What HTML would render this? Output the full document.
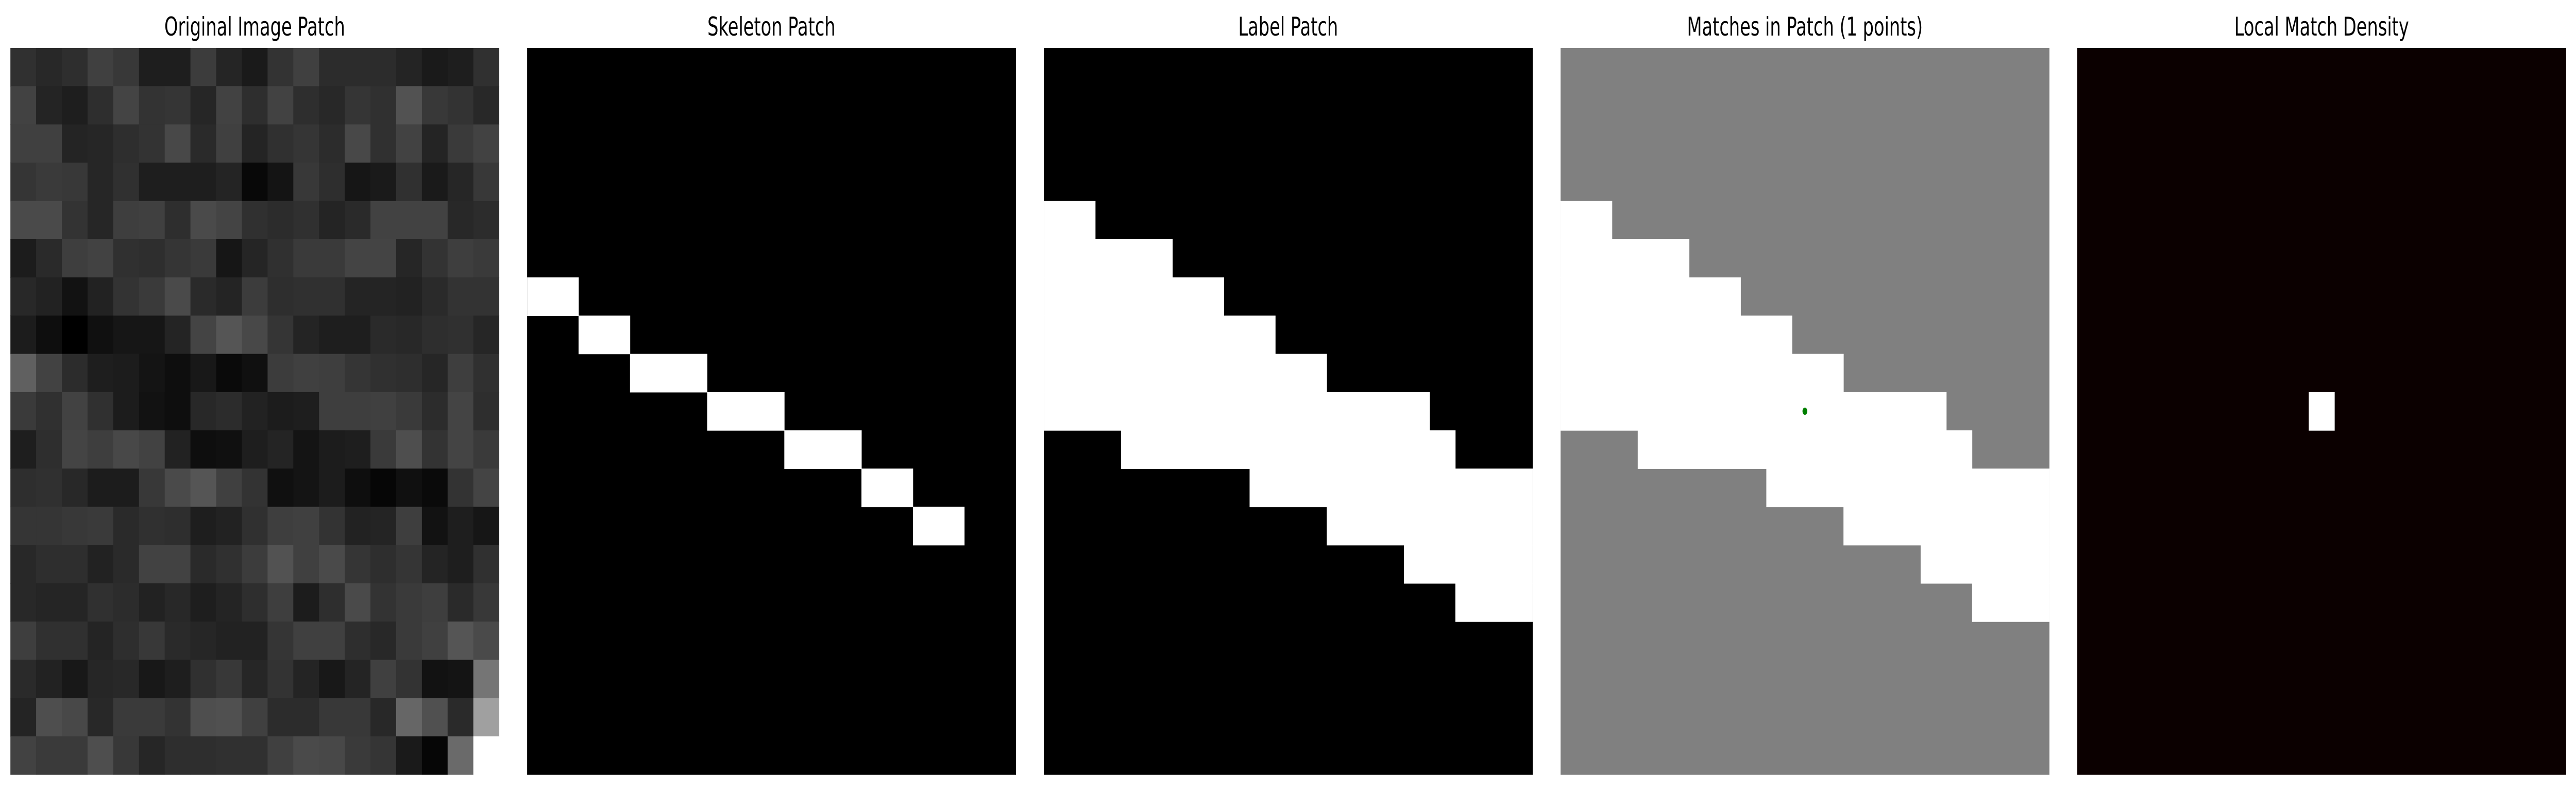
<!DOCTYPE html>
<html><head><meta charset="utf-8"><style>
html,body{margin:0;padding:0;background:#fff;width:100%;height:100%;overflow:hidden;}
svg{display:block;position:absolute;left:0;top:0;width:100vw;height:100vh;}
text{font-family:"DejaVu Sans","Liberation Sans",sans-serif;font-size:50px;fill:#000;}
</style></head><body>
<svg id="fig" viewBox="0 0 7433 1533" preserveAspectRatio="none" xmlns="http://www.w3.org/2000/svg">
<rect width="7433" height="1533" fill="#fff"/>
</svg>
<script>
const panelTitles = ["Original Image Patch","Skeleton Patch","Label Patch","Matches in Patch (1 points)","Local Match Density"];
const grayRows = [
"30,28,2e,40,38,1e,1e,3c,25,1a,33,40,2c,2c,2c,24,1a,1e,30",
"42,24,1e,2e,44,33,35,26,42,2e,42,2e,28,35,30,52,38,33,28",
"40,40,24,26,2e,33,48,2a,40,24,30,35,2c,48,30,42,24,3a,42",
"35,3a,38,26,30,1e,1e,1e,24,08,14,38,2e,16,1a,30,1a,26,38",
"4a,4a,33,26,3e,40,2e,4a,44,30,2c,30,24,2a,42,42,42,28,2c",
"1c,2a,3e,42,30,2e,35,3a,16,25,30,3a,3a,44,44,26,33,3e,3a",
"28,22,12,22,33,3a,4a,2a,24,3c,2e,30,30,24,24,22,2a,33,33",
"1c,0e,00,10,16,16,24,44,55,48,35,24,1e,1e,2a,28,2e,30,26",
"60,42,2c,1e,1c,14,0e,18,0a,10,3c,40,3e,35,30,2e,26,3e,30",
"3a,30,42,30,1c,12,0e,28,2c,22,1c,1e,3e,3e,40,3a,2c,44,2e",
"1e,2e,44,3e,48,42,22,0e,10,1e,24,14,1c,1e,3a,4e,33,44,3a",
"2e,30,28,1c,1c,38,4a,55,40,33,10,14,1c,0e,06,10,0a,33,44",
"35,35,38,3a,2a,30,2e,1e,22,30,3e,40,33,22,24,3e,12,1e,16",
"28,2e,2e,22,2a,42,42,2a,30,3c,52,40,4a,35,2e,35,24,1e,30",
"28,25,25,30,2c,22,28,1e,24,2e,3e,1c,2e,4a,33,3a,3e,2a,38",
"3e,30,30,24,2e,38,2a,26,22,22,35,40,40,2e,28,3a,40,55,4a",
"2a,22,18,26,28,18,1e,30,38,26,33,24,18,24,40,33,12,14,75",
"24,4e,48,28,3a,3a,33,4e,50,40,2c,2c,38,38,28,66,50,2a,a0",
"42,3a,3a,4e,38,26,2e,2e,30,30,40,4a,48,3a,35,1a,06,6a,ff"
];
const skeletonRuns = [[6,0,1],[7,2,3],[8,4,6],[9,7,9],[10,10,12],[11,13,14],[12,15,16]];
const labelRuns = [[4,0,1],[5,0,4],[6,0,6],[7,0,8],[8,0,10],[9,0,14],[10,3,15],[11,8,18],[12,11,18],[13,14,18],[14,16,18]];
const matchPoints = [[9,9]];
const densityCells = [[9,9,1]];

const N = 19, P0 = 30, PSTEP = 1491, TOP = 93, SIZE = 1410, CELL = SIZE / N;
const svg = document.getElementById('fig');
const NS = 'http://www.w3.org/2000/svg';
function px(i, c) { return P0 + i * PSTEP + c * CELL; }
function py(r) { return TOP + r * CELL; }
function rect(x, y, w, h, fill, name) {
  const e = document.createElementNS(NS, 'rect');
  e.setAttribute('x', x.toFixed(2)); e.setAttribute('y', y.toFixed(2));
  e.setAttribute('width', (w + 0.6).toFixed(2)); e.setAttribute('height', (h + 0.6).toFixed(2));
  e.setAttribute('fill', fill);
  
  
  svg.appendChild(e); return e;
}
panelTitles.forEach((t, i) => {
  const e = document.createElementNS(NS, 'text');
  e.setAttribute('x', P0 + i * PSTEP + SIZE / 2);
  e.setAttribute('y', 69);
  e.setAttribute('text-anchor', 'middle');
  e.textContent = t;
  
  
  svg.appendChild(e);
});
grayRows.forEach((row, r) => {
  row.split(',').forEach((h, c) => {
    rect(px(0, c), py(r), CELL, CELL, '#' + h + h + h, 'image-pixel');
  });
});
rect(px(1, 0), py(0), SIZE, SIZE, '#000', 'skeleton-background');
skeletonRuns.forEach(([r, a, b]) => rect(px(1, a), py(r), (b - a + 1) * CELL, CELL, '#fff', 'skeleton-run'));
rect(px(2, 0), py(0), SIZE, SIZE, '#000', 'label-background');
labelRuns.forEach(([r, a, b]) => rect(px(2, a), py(r), (b - a + 1) * CELL, CELL, '#fff', 'label-run'));
rect(px(3, 0), py(0), SIZE, SIZE, '#808080', 'matches-background');
labelRuns.forEach(([r, a, b]) => rect(px(3, a), py(r), (b - a + 1) * CELL, CELL, '#fff', 'matches-label-run'));
matchPoints.forEach(([r, c]) => {
  const e = document.createElementNS(NS, 'circle');
  e.setAttribute('cx', px(3, c + 0.5)); e.setAttribute('cy', py(r + 0.5)); e.setAttribute('r', 7);
  e.setAttribute('fill', '#007f00');
  
  
  svg.appendChild(e);
});
rect(px(4, 0), py(0), SIZE, SIZE, '#0b0000', 'density-background');
densityCells.forEach(([r, c, v]) => rect(px(4, c), py(r), CELL, CELL, v >= 1 ? '#fff' : '#0b0000', 'density-cell'));
</script>
</body></html>
